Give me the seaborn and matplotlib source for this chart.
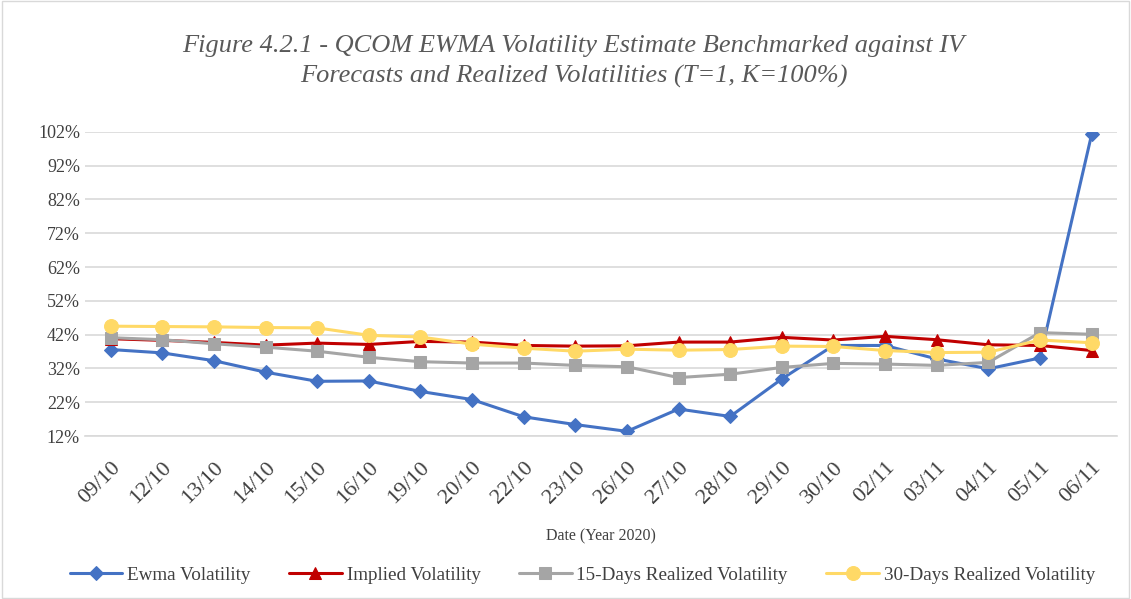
import pandas as pd
import numpy as np
import matplotlib.pyplot as plt
import seaborn as sns

dates = ['09/10', '12/10', '13/10', '14/10', '15/10', '16/10', '19/10', '20/10', '22/10', '23/10',
         '26/10', '27/10', '28/10', '29/10', '30/10', '02/11', '03/11', '04/11', '05/11', '06/11']
ewma = [37.6, 36.6, 34.3, 30.9, 28.2, 28.3, 25.2, 22.8, 17.7, 15.4,
        13.4, 20.0, 17.8, 28.9, 38.8, 38.8, 34.8, 31.9, 35.1, 101.2]
implied = [40.8, 40.3, 39.7, 38.9, 39.5, 39.1, 40.0, 39.8, 38.8, 38.6,
           38.7, 39.8, 39.8, 41.2, 40.4, 41.5, 40.5, 39.0, 38.8, 37.3]
rv15 = [41.1, 40.5, 39.3, 38.3, 37.1, 35.3, 34.0, 33.6, 33.6, 32.9,
        32.5, 29.3, 30.3, 32.3, 33.5, 33.3, 32.9, 33.8, 42.6, 42.1]
rv30 = [44.5, 44.4, 44.3, 44.1, 44.0, 41.8, 41.3, 39.2, 38.0, 37.1,
        37.7, 37.4, 37.6, 38.6, 38.5, 37.3, 36.7, 36.8, 40.4, 39.6]

names = ['Ewma Volatility', 'Implied Volatility', '15-Days Realized Volatility', '30-Days Realized Volatility']
colors = ['#4472C4', '#C00000', '#A5A5A5', '#FFD966']
marks = ['D', '^', 's', 'o']
msize = [7, 8, 8, 10]

df = pd.DataFrame({'idx': np.arange(len(dates)), 'date': dates,
                   names[0]: ewma, names[1]: implied, names[2]: rv15, names[3]: rv30})
long = df.melt(id_vars=['idx', 'date'], var_name='series', value_name='vol')

sns.set_style('white')
plt.rcParams['font.family'] = ['Liberation Serif', 'DejaVu Serif']

fig = plt.figure(figsize=(11.31, 5.99), dpi=100)
ax = fig.add_axes([0.075, 0.272, 0.913, 0.508])

for name, c, m, s in zip(names, colors, marks, msize):
    sns.lineplot(data=long[long.series == name], x='idx', y='vol', color=c, marker=m,
                 markersize=s, markeredgecolor=c, linewidth=2.2, label=name, ax=ax)

ax.set_ylim(12, 102)
ax.set_yticks(np.arange(12, 103, 10))
ax.set_yticklabels([f'{v}%' for v in range(12, 103, 10)], fontsize=13, color='#404040')
ax.yaxis.grid(True, color='#D9D9D9', linewidth=1.2)
ax.set_axisbelow(True)
ax.set_xlim(-0.5, len(dates) - 0.5)
ax.set_xticks(np.arange(len(dates)))
ax.set_xticklabels(dates, rotation=45, ha='right', rotation_mode='anchor', fontsize=16, color='#404040')
ax.tick_params(axis='x', length=0, pad=16)
ax.tick_params(axis='y', length=0)
ax.set_xticks(np.arange(-0.5, len(dates)), minor=True)
ax.tick_params(axis='x', which='minor', length=6, color='#D9D9D9', width=1.2)
for sp in ['top', 'right', 'left']:
    ax.spines[sp].set_visible(False)
ax.spines['bottom'].set_color('#D9D9D9')
ax.spines['bottom'].set_linewidth(1.2)

ax.set_ylabel('')
ax.set_xlabel('Date (Year 2020)', fontsize=11.5, color='#404040', labelpad=15)

fig.text(0.507, 0.898, 'Figure 4.2.1 - QCOM EWMA Volatility Estimate Benchmarked against IV\nForecasts and Realized Volatilities (T=1, K=100%)',
         ha='center', va='center', fontsize=19, style='italic', color='#595959', linespacing=1.45)

ax.legend(loc='center', bbox_to_anchor=(0.515, 0.04), bbox_transform=fig.transFigure, ncol=4,
          frameon=False, fontsize=13.8, handlelength=2.75, handletextpad=0.25, columnspacing=2.0,
          labelcolor='#404040')

fig.patches.append(plt.Rectangle((0.002, 0.002), 0.996, 0.996, transform=fig.transFigure,
                                 fill=False, edgecolor='#D9D9D9', linewidth=1))

plt.savefig('out.png', dpi=100)
